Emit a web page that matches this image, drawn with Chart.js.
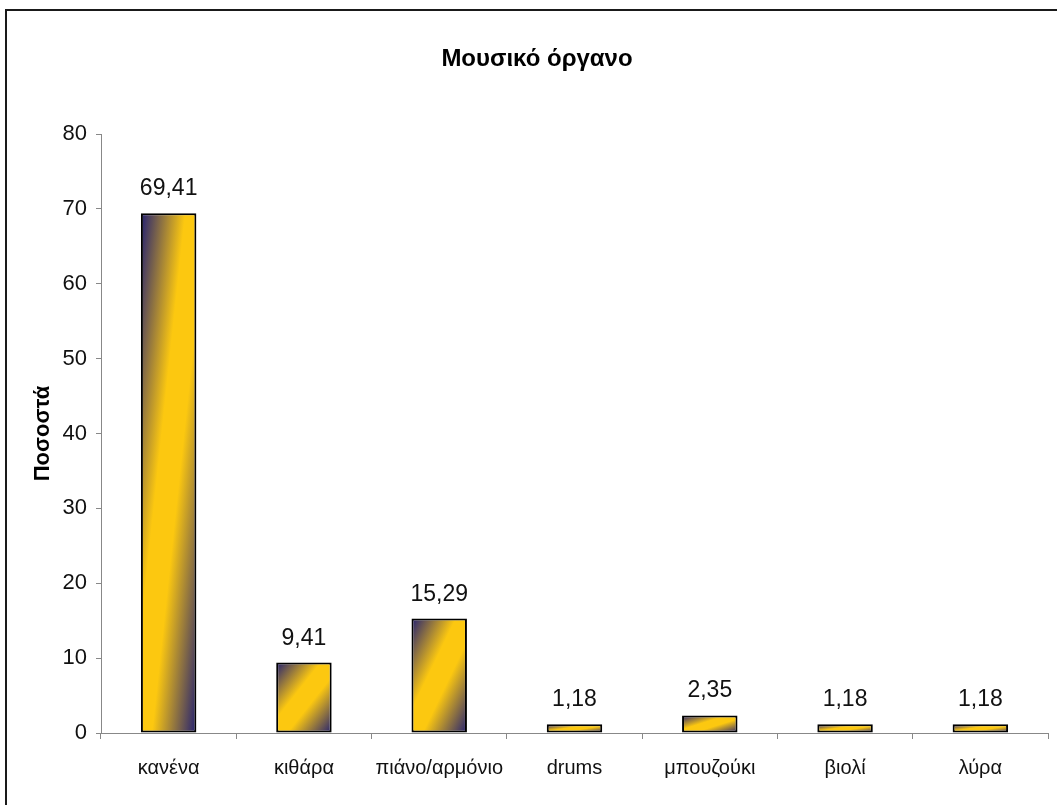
<!DOCTYPE html>
<html>
<head>
<meta charset="utf-8">
<title>Μουσικό όργανο</title>
<script src="https://cdn.jsdelivr.net/npm/chart.js@4.4.0/dist/chart.umd.min.js"></script>
<style>
	html, body { margin: 0; padding: 0; background: #fff; overflow: hidden; }
	#wrap { position: relative; width: 1057px; height: 805px; }
	#frame {
		position: absolute; left: 5px; top: 9px; right: -10px; bottom: -10px;
		border-left: 2px solid #1a1a1a; border-top: 2px solid #1a1a1a;
	}
	#chart { position: absolute; left: 0; top: 0; }
</style>
</head>
<body>
<div id="wrap">
	<div id="frame"></div>
	<canvas id="chart" width="1057" height="805"></canvas>
</div>
<script>
const chartTitle = "Μουσικό όργανο";
const yTitle = "Ποσοστά";
const categories = ["κανένα", "κιθάρα", "πιάνο/αρμόνιο", "drums", "μπουζούκι", "βιολί", "λύρα"];
const percentages = [69.41, 9.41, 15.29, 1.18, 2.35, 1.18, 1.18];
const yTicks = [0, 10, 20, 30, 40, 50, 60, 70, 80];

const NAVY = "#221f72";
const GOLD = "#fcc810";
const FONT = '"Liberation Sans", Arial, Helvetica, sans-serif';

Chart.defaults.font.family = FONT;
Chart.defaults.color = "#111";

// diagonal gradient in bar-box coordinates: navy corners, gold band in the middle
function barGradient(context) {
	const chart = context.chart;
	const xs = chart.scales.x, ys = chart.scales.y;
	if (!xs || !ys || context.dataIndex === undefined || !xs.width) return GOLD;
	const i = context.dataIndex;
	const v = percentages[i];
	const catW = xs.width / categories.length;
	const w = catW * 0.41;
	const x0 = xs.getPixelForValue(i) - w / 2;
	const y0 = ys.getPixelForValue(v);
	const h = Math.max(ys.getPixelForValue(0) - y0, 1);
	const s = 2 / (1 / (w * w) + 1 / (h * h));
	const g = chart.ctx.createLinearGradient(x0, y0, x0 + s / w, y0 + s / h);
	g.addColorStop(0, NAVY);
	g.addColorStop(0.4, GOLD);
	g.addColorStop(0.6, GOLD);
	g.addColorStop(1, NAVY);
	return g;
}

const valueLabels = {
	id: "valueLabels",
	afterDatasetsDraw(chart) {
		const ctx = chart.ctx;
		const meta = chart.getDatasetMeta(0);
		ctx.save();
		ctx.font = "23px " + FONT;
		ctx.fillStyle = "#111";
		ctx.textAlign = "center";
		ctx.textBaseline = "alphabetic";
		meta.data.forEach((bar, i) => {
			ctx.fillText(percentages[i].toFixed(2).replace(".", ","), bar.x, bar.y - 18);
		});
		ctx.restore();
	}
};

new Chart(document.getElementById("chart"), {
	type: "bar",
	data: {
		labels: categories,
		datasets: [{
			data: percentages,
			backgroundColor: barGradient,
			borderColor: "#000",
			borderWidth: 2,
			borderSkipped: false,
			categoryPercentage: 1,
			barPercentage: 0.41
		}]
	},
	options: {
		responsive: false,
		animation: false,
		layout: { padding: { left: 26, right: 9, top: 0, bottom: 0 } },
		plugins: {
			legend: { display: false },
			tooltip: { enabled: false },
			title: {
				display: true,
				text: chartTitle,
				color: "#000",
				font: { size: 24, weight: "bold" },
				padding: { top: 45, bottom: 60.2 }
			}
		},
		scales: {
			x: {
				afterFit: s => { s.height = 72; },
				grid: { offset: true, drawOnChartArea: false, drawTicks: true, tickLength: 6, color: "#888" },
				border: { color: "#888", width: 1 },
				ticks: { font: { size: 20 }, color: "#111", padding: 17, maxRotation: 0, minRotation: 0, autoSkip: false }
			},
			y: {
				min: 0,
				max: 80,
				afterFit: s => { s.width = 75; },
				afterBuildTicks: s => { s.ticks = yTicks.map(v => ({ value: v })); },
				grid: { drawOnChartArea: false, drawTicks: true, tickLength: 5, color: "#888" },
				border: { color: "#888", width: 1 },
				ticks: { font: { size: 22 }, color: "#111", padding: 9 },
				title: {
					display: true,
					text: yTitle,
					color: "#000",
					font: { size: 22, weight: "bold" },
					padding: { top: 4, bottom: 0 }
				}
			}
		}
	},
	plugins: [valueLabels]
});
</script>
</body>
</html>
